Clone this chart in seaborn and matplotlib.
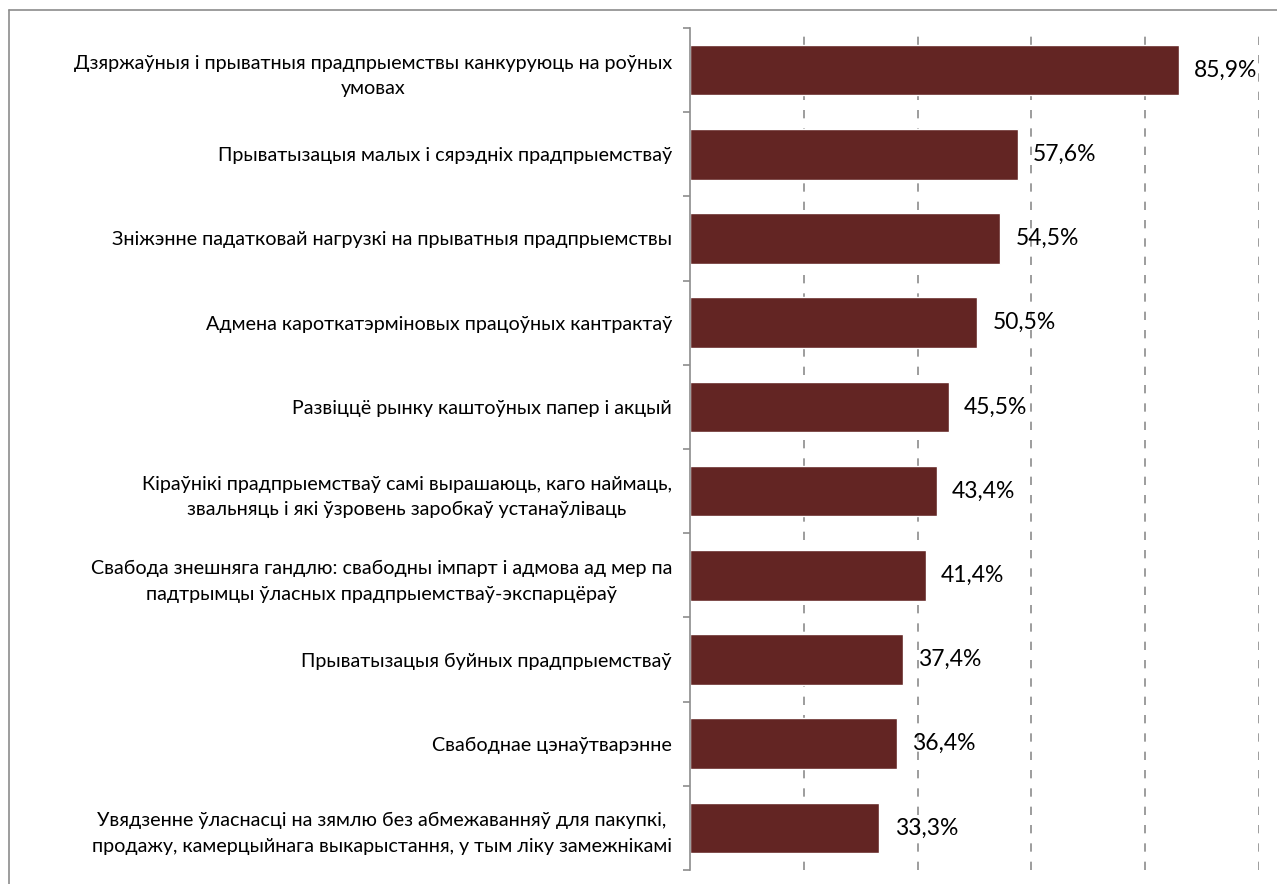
import matplotlib
matplotlib.use("Agg")
import matplotlib.pyplot as plt
import seaborn as sns
import pandas as pd
from matplotlib.lines import Line2D

categories = [
    "Дзяржаўныя і прыватныя прадпрыемствы канкуруюць на роўных\nумовах",
    "Прыватызацыя малых і сярэдніх прадпрыемстваў",
    "Зніжэнне падатковай нагрузкі на прыватныя прадпрыемствы",
    "Адмена кароткатэрміновых працоўных кантрактаў",
    "Развіццё рынку каштоўных папер і акцый",
    "Кіраўнікі прадпрыемстваў самі вырашаюць, каго наймаць,\nзвальняць і які ўзровень заробкаў устанаўліваць",
    "Свабода знешняга гандлю: свабодны імпарт і адмова ад мер па\nпадтрымцы ўласных прадпрыемстваў-экспарцёраў",
    "Прыватызацыя буйных прадпрыемстваў",
    "Свабоднае цэнаўтварэнне",
    "Увядзенне ўласнасці на зямлю без абмежаванняў для пакупкі,\nпродажу, камерцыйнага выкарыстання, у тым ліку замежнікамі",
]
values = [85.9, 57.6, 54.5, 50.5, 45.5, 43.4, 41.4, 37.4, 36.4, 33.3]
value_labels = ["85,9%", "57,6%", "54,5%", "50,5%", "45,5%", "43,4%", "41,4%", "37,4%", "36,4%", "33,3%"]
grid_ticks = [20, 40, 60, 80, 100]

sns.set_style("white")
plt.rcParams['font.family'] = ['Lato', 'DejaVu Sans']

W, H = 1277, 884
fig = plt.figure(figsize=(W / 100, H / 100), dpi=100)
ax = fig.add_axes([690 / W, 1 - 870 / H, (1259 - 690) / W, (870 - 28) / H])

df = pd.DataFrame({"cat": categories, "val": values})
sns.barplot(data=df, x="val", y="cat", orient="h", color="#632523", saturation=1,
            width=0.6, ax=ax)

ax.set_xlim(0, 100)
ax.set_ylim(len(categories) - 0.5, -0.5)
ax.set_xlabel("")
ax.set_ylabel("")
ax.set_xticks(grid_ticks)
ax.set_xticklabels([])
ax.tick_params(axis="x", length=0)
ax.xaxis.grid(True, linestyle=(0, (5, 6)), color="#8c8c8c", linewidth=1.2)
ax.set_axisbelow(True)

for s in ["top", "right", "bottom"]:
    ax.spines[s].set_visible(False)
ax.spines["left"].set_color("#8c8c8c")
ax.spines["left"].set_linewidth(1.2)

ax.set_yticks(range(len(categories)))
ax.set_yticklabels(categories, fontsize=14.2, multialignment="center", color="black",
                   linespacing=1.62)
ax.tick_params(axis="y", which="major", length=0, pad=13, left=False)
ax.set_yticks([i - 0.5 for i in range(len(categories) + 1)], minor=True)
ax.tick_params(axis="y", which="minor", left=True, length=5, width=1.2,
               color="#8c8c8c", direction="out")

for p, lab in zip(ax.patches, value_labels):
    ax.annotate(lab, (p.get_width(), p.get_y() + p.get_height() / 2),
                xytext=(11, 0), textcoords="offset points", va="center", ha="left",
                fontsize=16.5, color="#000000")

# outer frame
fig.add_artist(Line2D([8.5 / W, 8.5 / W], [0, 1 - 9.5 / H], color="#8c8c8c", lw=1.2, transform=fig.transFigure))
fig.add_artist(Line2D([8.5 / W, 1], [1 - 9.5 / H, 1 - 9.5 / H], color="#8c8c8c", lw=1.2, transform=fig.transFigure))

fig.savefig("out.png", dpi=100)
